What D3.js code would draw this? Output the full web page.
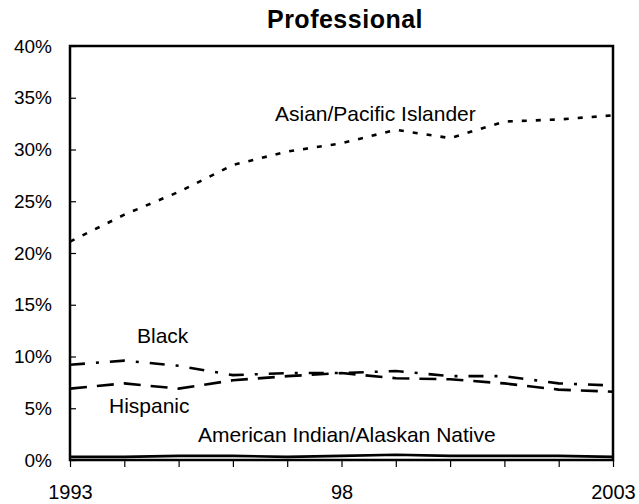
<!DOCTYPE html>
<html><head><meta charset="utf-8">
<script src="https://cdn.jsdelivr.net/npm/d3@7"></script>
<style>body{margin:0;background:#fff}svg{display:block;font-family:"Liberation Sans",Arial,sans-serif}</style>
</head><body><svg id="c" width="639" height="504"></svg>
<script>
const years = [1993,1994,1995,1996,1997,1998,1999,2000,2001,2002,2003];
const yearLabels = {1993:"1993",1998:"98",2003:"2003"};
const yTicks = [0,5,10,15,20,25,30,35,40];
const asian = [21.1,23.7,25.9,28.5,29.8,30.6,31.9,31.1,32.7,32.9,33.3];
const black = [9.2,9.6,9.1,8.2,8.4,8.4,8.6,8.1,8.1,7.4,7.2];
const hispanic = [6.9,7.4,6.9,7.7,8.1,8.4,7.9,7.8,7.4,6.8,6.6];
const amind = [0.3,0.3,0.4,0.4,0.3,0.4,0.5,0.4,0.4,0.4,0.3];
const seriesNames = ["Asian/Pacific Islander","Black","Hispanic","American Indian/Alaskan Native"];

const svg = d3.select("#c");
const m = {l:70, r:613, t:46, b:460};
const x = d3.scaleLinear().domain([1993,2003]).range([m.l,m.r]);
const y = d3.scaleLinear().domain([0,40]).range([m.b,m.t]);

svg.append("text").attr("x",345).attr("y",28).attr("text-anchor","middle")
  .attr("font-size",25).attr("font-weight","bold").attr("letter-spacing",0.5).text("Professional");

// y axis
const ya = svg.append("g").attr("transform",`translate(${m.l},0)`)
  .call(d3.axisLeft(y).tickValues(yTicks).tickFormat(d=>d+"%").tickSize(7).tickPadding(11));
ya.select(".domain").remove();
ya.selectAll(".tick line").attr("x2",6).attr("stroke","#000").attr("stroke-width",1.2);
ya.selectAll("text").attr("font-size",19).attr("fill","#000").attr("font-family","Liberation Sans, Arial, sans-serif");

// x axis
const xa = svg.append("g").attr("transform",`translate(0,${m.b})`)
  .call(d3.axisBottom(x).tickValues(years).tickFormat(d=>yearLabels[d]||"").tickSize(7).tickPadding(18));
xa.select(".domain").remove();
xa.selectAll(".tick line").attr("stroke","#000").attr("stroke-width",1.2);
xa.selectAll("text").attr("font-size",20).attr("fill","#000").attr("font-family","Liberation Sans, Arial, sans-serif");

const line = d3.line().x((d,i)=>x(years[i])).y(d=>y(d));
const styles = [
  {data:asian, dash:"5,9"},
  {data:black, dash:"15,11,3,11"},
  {data:hispanic, dash:"17,10"},
  {data:amind, dash:null}
];
styles.forEach(s=>{
  const p = svg.append("path").datum(s.data).attr("d",line).attr("fill","none")
    .attr("stroke","#000").attr("stroke-width",2.6);
  if(s.dash) p.attr("stroke-dasharray",s.dash);
});

// frame
svg.append("rect").attr("x",m.l).attr("y",m.t).attr("width",m.r-m.l).attr("height",m.b-m.t)
  .attr("fill","none").attr("stroke","#000").attr("stroke-width",2.5);

const labels = [
  {t:seriesNames[0], x:275, y:121},
  {t:seriesNames[1], x:137, y:343},
  {t:seriesNames[2], x:109, y:413},
  {t:seriesNames[3], x:198, y:442}
];
labels.forEach(l=>svg.append("text").attr("x",l.x).attr("y",l.y).attr("font-size",21).text(l.t));
</script></body></html>
